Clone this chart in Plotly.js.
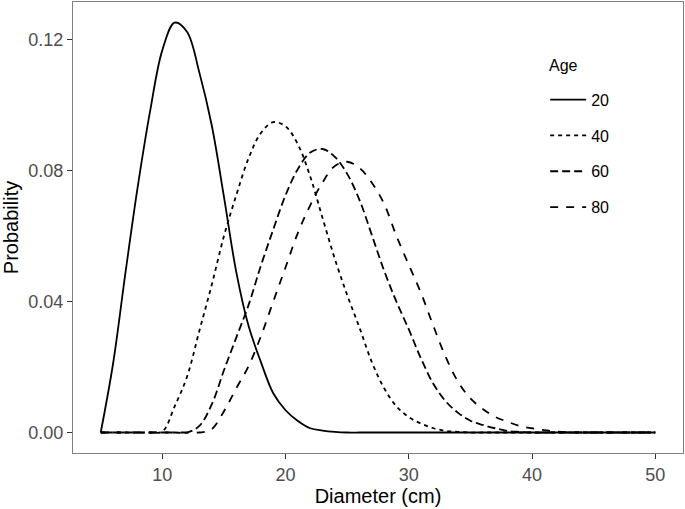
<!DOCTYPE html>
<html>
<head>
<meta charset="utf-8">
<script src="https://cdn.plot.ly/plotly-3.0.1.min.js"></script>
<style>html,body{margin:0;padding:0;background:#fff}#chart{width:685px;height:509px}</style>
</head>
<body>
<div id="chart"></div>
<script>
// Diameter (cm)
const diameter = [5,6,7,8,9,10,11,12,13,14,15,16,17,18,19,20,21,22,23,24,25,26,27,28,29,30,31,32,33,34,35,36,37,38,39,40,41,42,43,44,45,46,47,48,49,50];

// Probability by age
const age20 = [0,0.0210,0.0486,0.0750,0.0980,0.1168,0.1252,0.1224,0.1100,0.0940,0.0720,0.0490,0.0325,0.0215,0.0120,0.0068,0.0035,0.0013,0.0006,0.0002,0,0,0,0,0,0,0,0,0,0,0,0,0,0,0,0,0,0,0,0,0,0,0,0,0,0];
const age40 = [0,0,0,0,0,0.0003,0.0080,0.0170,0.0310,0.0450,0.0600,0.0725,0.0838,0.0915,0.0948,0.0935,0.0880,0.0782,0.0655,0.0530,0.0420,0.0320,0.0215,0.0135,0.0080,0.0047,0.0027,0.0013,0.0005,0.0002,0,0,0,0,0,0,0,0,0,0,0,0,0,0,0,0];
const age60 = [0,0,0,0,0,0,0,0,0.0020,0.0085,0.0190,0.0290,0.0390,0.0510,0.0620,0.0725,0.0805,0.0855,0.0866,0.0842,0.0790,0.0710,0.0603,0.0494,0.0399,0.0315,0.0225,0.0148,0.0095,0.0060,0.0036,0.0023,0.0013,0.0005,0.0002,0,0,0,0,0,0,0,0,0,0,0];
const age80 = [0,0,0,0,0,0,0,0,0,0.0010,0.0065,0.0135,0.0203,0.0294,0.0400,0.0505,0.0610,0.0694,0.0764,0.0814,0.0827,0.0808,0.0763,0.0698,0.0600,0.0512,0.0425,0.0325,0.0230,0.0155,0.0104,0.0072,0.0048,0.0033,0.0020,0.0013,0.0007,0.0003,0.0001,0,0,0,0,0,0,0];

const ageLabels = ['20','40','60','80'];
const legendTitle = 'Age';
const xTicks = [10,20,30,40,50];
const yTicks = [0,0.04,0.08,0.12];
const yTickText = ['0.00','0.04','0.08','0.12'];

const series = [age20, age40, age60, age80];
const dashes = ['solid','4px,4px','8px,4px','8px,8px'];

const traces = [];
for (let i = series.length - 1; i >= 0; i--) {
  traces.push({
    x: diameter, y: series[i], type: 'scatter', mode: 'lines',
    name: ageLabels[i], legendgroup: 'g' + i, legendrank: i + 1,
    line: {color: '#000000', width: 1.8, dash: dashes[i], shape: 'spline', smoothing: 1.0},
    hoverinfo: 'skip'
  });
}

const font = 'Liberation Sans, Arial, Helvetica, sans-serif';
const layout = {
  width: 685, height: 509,
  margin: {l: 73, r: 2, t: 2, b: 56},
  paper_bgcolor: '#ffffff', plot_bgcolor: '#ffffff',
  font: {family: font, color: '#000000'},
  showlegend: true,
  legend: {
    x: 0.774, y: 0.821, xanchor: 'left', yanchor: 'top',
    bgcolor: 'rgba(0,0,0,0)', borderwidth: 0,
    font: {size: 16, family: font, color: '#000000'},
    tracegroupgap: 12, itemwidth: 36
  },
  annotations: [{
    text: legendTitle, xref: 'paper', yref: 'paper', x: 0.777, y: 0.860,
    xanchor: 'left', yanchor: 'middle', showarrow: false,
    font: {size: 16, family: font, color: '#000000'}
  }],
  xaxis: {
    range: [2.75, 52.25], tickmode: 'array', tickvals: xTicks,
    ticks: 'outside', ticklen: 5, tickcolor: '#333333', tickwidth: 1,
    tickfont: {size: 18, color: '#4d4d4d', family: font},
    showgrid: false, zeroline: false,
    showline: true, mirror: true, linecolor: '#808080', linewidth: 1.2,
    title: {text: 'Diameter (cm)', font: {size: 20, color: '#000000', family: font}, standoff: 4}
  },
  yaxis: {
    range: [-0.00626, 0.1315], tickmode: 'array', tickvals: yTicks, ticktext: yTickText,
    ticks: 'outside', ticklen: 5, tickcolor: '#333333', tickwidth: 1,
    tickfont: {size: 18, color: '#4d4d4d', family: font},
    showgrid: false, zeroline: false,
    showline: true, mirror: true, linecolor: '#808080', linewidth: 1.2,
    title: {text: 'Probability', font: {size: 20, color: '#000000', family: font}, standoff: 4}
  }
};

Plotly.newPlot('chart', traces, layout, {displayModeBar: false, staticPlot: true});
</script>
</body>
</html>
